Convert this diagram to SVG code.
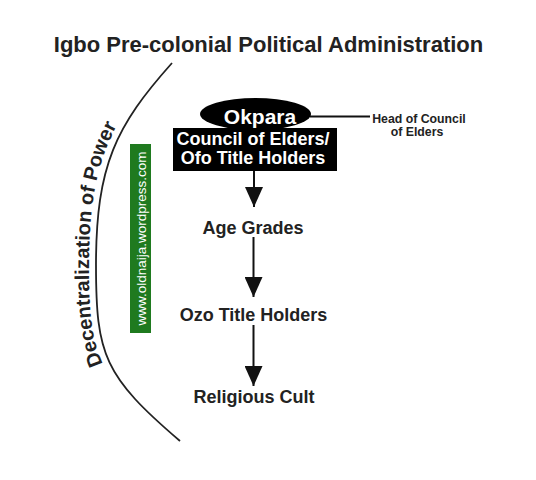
<svg xmlns="http://www.w3.org/2000/svg" width="536" height="480" viewBox="0 0 536 480">
<style>
  .t { font-family: "Liberation Sans", Arial, sans-serif; font-weight: bold; fill: #222; }
  .lbl { font-size: 18px; text-anchor: middle; }
  .wt { fill: #fff; }
  .conn { stroke: #111; stroke-width: 2; fill: none; }
</style>
<defs>
  <marker id="ah" markerUnits="userSpaceOnUse" markerWidth="20" markerHeight="18" viewBox="0 0 20 18" refX="20" refY="9" orient="auto">
    <path d="M0,0 L20,9 L0,18 z" fill="#111"/>
  </marker>
  <path id="tp" d="M175,446 C97,378 89,355 89,265 C89,165 110,121 167,58"/>
</defs>
<rect width="536" height="480" fill="#fff"/>

<text class="t" x="268.5" y="52" font-size="22" text-anchor="middle">Igbo Pre-colonial Political Administration</text>

<g id="arc">
  <path d="M172,63 C116,125.8 96,165 96,265 C96,355 104,376 180,441" fill="none" stroke="#222" stroke-width="1.8"/>
  <text class="t" font-size="20"><textPath href="#tp" startOffset="110">Decentralization of Power</textPath></text>
</g>

<g id="watermark">
  <rect x="130" y="144" width="21" height="189" fill="#1f7a1f"/>
  <text transform="translate(145.5,238.5) rotate(-90)" font-family="Liberation Sans, Arial, sans-serif" font-size="13.5" fill="#fff" text-anchor="middle">www.oldnaija.wordpress.com</text>
</g>

<g id="connectors">
  <line class="conn" x1="310" y1="116.5" x2="370" y2="116.5" stroke-width="1.6"/>
  <line class="conn" x1="254" y1="171" x2="254" y2="207" marker-end="url(#ah)"/>
  <line class="conn" x1="253.5" y1="237" x2="253.5" y2="297" marker-end="url(#ah)"/>
  <line class="conn" x1="253.5" y1="325" x2="253.5" y2="386" marker-end="url(#ah)"/>
</g>

<g id="okpara">
  <ellipse cx="255.5" cy="114" rx="55.5" ry="16" fill="#000"/>
  <text class="t wt" x="260" y="124" font-size="21" text-anchor="middle">Okpara</text>
</g>

<g id="council">
  <rect x="173" y="128" width="164" height="43" fill="#000"/>
  <text class="t wt lbl" x="253" y="145">Council of Elders/</text>
  <text class="t wt lbl" x="253" y="164">Ofo Title Holders</text>
</g>

<g id="head-note">
  <text class="t" x="419" y="123" font-size="12.3" text-anchor="middle">Head of Council</text>
  <text class="t" x="417" y="136" font-size="12.3" text-anchor="middle">of Elders</text>
</g>

<g id="age-grades">
  <text class="t lbl" x="253" y="234">Age Grades</text>
</g>
<g id="ozo">
  <text class="t lbl" x="253.5" y="321">Ozo Title Holders</text>
</g>
<g id="religious-cult">
  <text class="t lbl" x="254" y="403">Religious Cult</text>
</g>
</svg>
